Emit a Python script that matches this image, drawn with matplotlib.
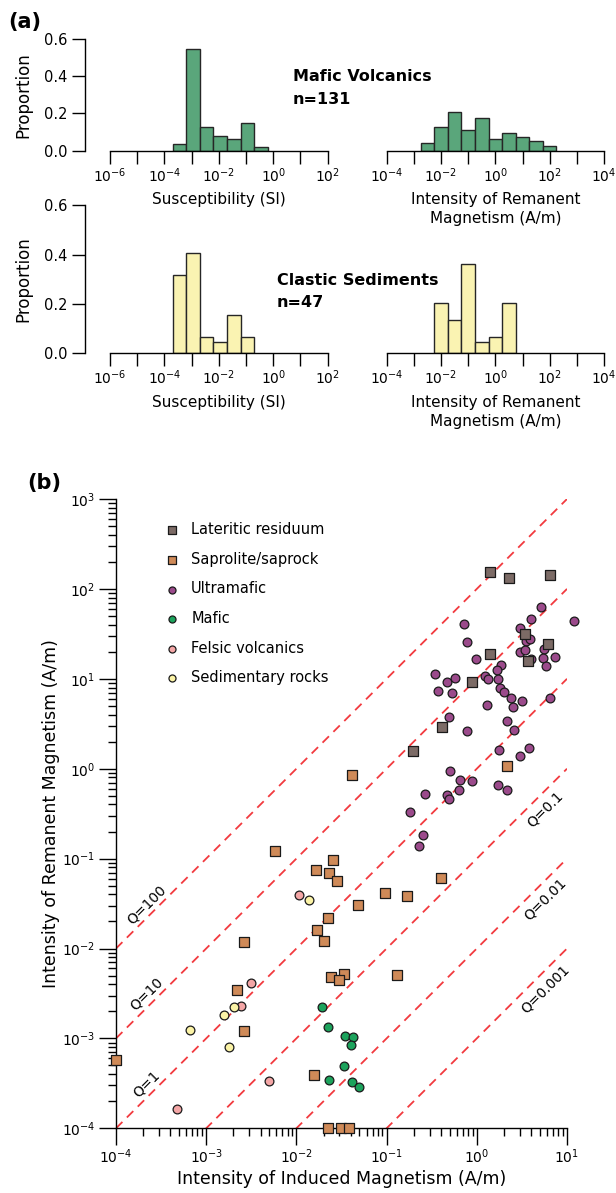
import numpy as np
import matplotlib
matplotlib.use('Agg')
import matplotlib.pyplot as plt
from matplotlib import ticker

# ---------------- (a) histograms: log10 bin edges and proportions ----------------
mafic_sus_edges = [-3.7, -3.2, -2.7, -2.2, -1.7, -1.2, -0.7, -0.2]
mafic_sus_prop = [0.034, 0.546, 0.125, 0.079, 0.063, 0.147, 0.018]
mafic_rem_edges = [-2.75, -2.25, -1.75, -1.25, -0.75, -0.25, 0.25, 0.75, 1.25, 1.75, 2.25]
mafic_rem_prop = [0.040, 0.126, 0.209, 0.110, 0.178, 0.065, 0.094, 0.072, 0.054, 0.025]
clastic_sus_edges = [-3.7, -3.2, -2.7, -2.2, -1.7, -1.2, -0.7]
clastic_sus_prop = [0.316, 0.405, 0.068, 0.044, 0.157, 0.068]
clastic_rem_edges = [-2.25, -1.75, -1.25, -0.75, -0.25, 0.25, 0.75]
clastic_rem_prop = [0.203, 0.135, 0.361, 0.045, 0.068, 0.203]

# ---------------- (b) induced (Ji) vs remanent (Jr) magnetism, A/m ----------------
lat_ji = [1.41, 2.28, 6.43, 3.40, 6.11, 1.40, 3.67, 0.89, 0.414, 0.195]
lat_jr = [156, 133, 142, 31.4, 24.5, 19.1, 15.9, 9.16, 2.89, 1.59]

sap_ji = [0.041, 2.14, 0.0058, 0.0255, 0.0164, 0.0232, 0.0284, 0.0953, 0.0485,
          0.0224, 0.0168, 0.0202, 0.00262, 0.024, 0.0334, 0.0299, 0.132, 0.00218,
          0.00262, 0.0001, 0.0156, 0.0224, 0.031, 0.038, 0.398, 0.167]
sap_jr = [0.843, 1.08, 0.120, 0.0955, 0.074, 0.069, 0.0564, 0.0417, 0.0304,
          0.0216, 0.0161, 0.0121, 0.0119, 0.00488, 0.00519, 0.00448, 0.00509, 0.00349,
          0.00121, 0.000577, 0.000395, 0.0001, 0.0001, 0.0001, 0.0603, 0.0386]

ultra_ji = [5.15, 11.9, 3.96, 0.726, 3.05, 0.783, 3.51, 3.89, 3.03, 3.42,
            5.56, 5.46, 7.32, 5.85, 4.02, 0.973, 1.85, 1.66, 1.23, 1.34,
            1.71, 0.347, 0.473, 0.566, 0.369, 0.525, 1.80, 2.02, 2.38, 3.17,
            6.48, 2.54, 1.29, 0.488, 0.773, 2.18, 2.61, 1.78, 3.01, 3.82,
            0.508, 0.645, 0.895, 0.630, 0.264, 0.463, 0.492, 1.73, 2.15, 0.181,
            0.251, 0.231]
ultra_jr = [62.7, 43.5, 46.6, 40.5, 37.1, 25.9, 26.0, 27.4, 20.0, 20.7,
            21.2, 16.9, 17.5, 13.9, 16.7, 16.5, 14.4, 12.5, 10.8, 10.0,
            10.0, 11.4, 9.29, 10.1, 7.31, 7.00, 7.84, 7.16, 6.04, 5.66,
            6.04, 4.83, 5.07, 3.76, 2.65, 3.39, 2.72, 1.63, 1.37, 1.69,
            0.933, 0.746, 0.733, 0.585, 0.525, 0.512, 0.461, 0.665, 0.578, 0.333,
            0.183, 0.137]

mafic_ji = [0.0194, 0.0224, 0.0346, 0.0428, 0.0402, 0.034, 0.0230, 0.0413, 0.0491]
mafic_jr = [0.00226, 0.00134, 0.00107, 0.00104, 0.000847, 0.000498, 0.000348, 0.000328, 0.000286]

felsic_ji = [0.0107, 0.00314, 0.00245, 0.00501, 0.000474]
felsic_jr = [0.0389, 0.00412, 0.0023, 0.000333, 0.000163]

sed_ji = [0.0139, 0.00203, 0.00159, 0.000667, 0.00179]
sed_jr = [0.0343, 0.00226, 0.00183, 0.00125, 0.000798]

q_values = [100, 10, 1, 0.1, 0.01, 0.001]
q_labels = ['Q=100', 'Q=10', 'Q=1', 'Q=0.1', 'Q=0.01', 'Q=0.001']

plt.rcParams['font.family'] = ['DejaVu Sans']

W, H = 616, 1193
fig = plt.figure(figsize=(W / 100, H / 100), dpi=100)


def px_axes(left, top, right, bottom):
    return fig.add_axes([left / W, 1 - bottom / H, (right - left) / W, (bottom - top) / H])


def even_decades(v, pos):
    e = int(round(np.log10(v)))
    return r'$\mathdefault{10^{%d}}$' % e if e % 2 == 0 else ''


def hist_panel(ax, edges, props, color, xlo, xhi, xlabel, with_y):
    e = 10.0 ** np.asarray(edges)
    ax.bar(e[:-1], props, width=np.diff(e), align='edge', color=color,
           edgecolor='#262626', linewidth=1.0, zorder=2)
    ax.set_xscale('log')
    ax.set_xlim(10.0 ** xlo, 10.0 ** xhi)
    ax.set_ylim(0, 0.6)
    ax.xaxis.set_major_locator(ticker.FixedLocator(10.0 ** np.arange(xlo, xhi + 1)))
    ax.xaxis.set_minor_locator(ticker.NullLocator())
    ax.xaxis.set_major_formatter(ticker.FuncFormatter(even_decades))
    ax.tick_params(axis='x', direction='out', length=9, width=1.0, pad=2, labelsize=10)
    for s in ['top', 'right']:
        ax.spines[s].set_visible(False)
    ax.spines['bottom'].set_linewidth(1.0)
    if with_y:
        ax.spines['left'].set_position(('outward', 18))
        ax.spines['left'].set_linewidth(1.0)
        ax.set_yticks([0.0, 0.2, 0.4, 0.6])
        ax.yaxis.set_major_formatter(ticker.FormatStrFormatter('%.1f'))
        ax.tick_params(axis='y', direction='out', length=9.5, width=1.0, pad=3, labelsize=10.5)
        ax.set_ylabel('Proportion', fontsize=12)
        ax.yaxis.set_label_coords(-0.355, 0.5)
    else:
        ax.spines['left'].set_visible(False)
        ax.set_yticks([])
    ax.set_xlabel(xlabel, fontsize=11, linespacing=1.35, va='top')
    ax.patch.set_alpha(0)


green = '#5aa67b'
yellow = '#faf3b2'
rem_label = 'Intensity of Remanent\nMagnetism (A/m)'

ax1 = px_axes(110, 39, 327.7, 150.7)
hist_panel(ax1, mafic_sus_edges, mafic_sus_prop, green, -6, 2, 'Susceptibility (SI)', True)
ax2 = px_axes(386.7, 39, 604, 150.7)
hist_panel(ax2, mafic_rem_edges, mafic_rem_prop, green, -4, 4, rem_label, False)
ax3 = px_axes(110, 205.3, 327.7, 353.3)
hist_panel(ax3, clastic_sus_edges, clastic_sus_prop, yellow, -6, 2, 'Susceptibility (SI)', True)
ax4 = px_axes(386.7, 205.3, 604, 353.3)
hist_panel(ax4, clastic_rem_edges, clastic_rem_prop, yellow, -4, 4, rem_label, False)

ax1.xaxis.set_label_coords(0.5, -0.37)
ax2.xaxis.set_label_coords(0.5, -0.37)
ax3.xaxis.set_label_coords(0.5, -0.28)
ax4.xaxis.set_label_coords(0.5, -0.28)

fig.text(8 / W, 1 - 22 / H, '(a)', fontsize=15, fontweight='bold', va='center', ha='left')
fig.text(293 / W, 1 - 76.5 / H, 'Mafic Volcanics', fontsize=11.5, fontweight='bold', va='center')
fig.text(293 / W, 1 - 99.5 / H, 'n=131', fontsize=11.5, fontweight='bold', va='center')
fig.text(277 / W, 1 - 280 / H, 'Clastic Sediments', fontsize=11.5, fontweight='bold', va='center')
fig.text(277 / W, 1 - 302.5 / H, 'n=47', fontsize=11.5, fontweight='bold', va='center')
fig.text(27 / W, 1 - 483 / H, '(b)', fontsize=15, fontweight='bold', va='center', ha='left')

# ---------------- (b) scatter ----------------
ax = px_axes(116, 499, 567, 1128.3)
ax.set_xscale('log')
ax.set_yscale('log')
ax.set_xlim(1e-4, 1e1)
ax.set_ylim(1e-4, 1e3)

xq = np.array([1e-4, 1e1])
for q in q_values:
    ax.plot(xq, q * xq, color='#f23a3f', lw=1.3, dashes=(5, 3.5), zorder=1)

for q, lab in zip(q_values, q_labels):
    if q >= 1:
        lx, off = -3.66, 0.15
    else:
        lx, off = 0.76, -0.21
    ly = np.log10(q) + lx + off
    ax.text(10 ** lx, 10 ** ly, lab, rotation=45, ha='center', va='center',
            rotation_mode='anchor', fontsize=10, zorder=2)

kw = dict(edgecolors='#1a1a1a', linewidths=0.9, zorder=3, clip_on=False)
h_ultra = ax.scatter(ultra_ji, ultra_jr, s=40, marker='o', color='#9b4a8b', label='Ultramafic', **kw)
h_maf = ax.scatter(mafic_ji, mafic_jr, s=40, marker='o', color='#1ca35c', label='Mafic', **kw)
h_fel = ax.scatter(felsic_ji, felsic_jr, s=40, marker='o', color='#f4a6a6', label='Felsic volcanics', **kw)
h_sed = ax.scatter(sed_ji, sed_jr, s=40, marker='o', color='#fbf3a6', label='Sedimentary rocks', **kw)
h_sap = ax.scatter(sap_ji, sap_jr, s=52, marker='s', color='#cf8a58', label='Saprolite/saprock', **kw)
h_lat = ax.scatter(lat_ji, lat_jr, s=52, marker='s', color='#7c6b66', label='Lateritic residuum', **kw)

leg = ax.legend(handles=[h_lat, h_sap, h_ultra, h_maf, h_fel, h_sed], loc='upper left',
                bbox_to_anchor=(0.107, 0.963), frameon=False, fontsize=10.5,
                handlelength=1.0, handletextpad=0.85, labelspacing=1.0,
                borderpad=0, borderaxespad=0, markerscale=0.8)

for s in ['top', 'right']:
    ax.spines[s].set_visible(False)
for s in ['left', 'bottom']:
    ax.spines[s].set_linewidth(1.0)
for a in (ax.xaxis, ax.yaxis):
    a.set_major_locator(ticker.LogLocator(base=10, numticks=20))
    a.set_minor_locator(ticker.LogLocator(base=10, subs=np.arange(2, 10), numticks=20))
    a.set_minor_formatter(ticker.NullFormatter())
ax.tick_params(which='major', direction='out', length=12, width=1.0, labelsize=10)
ax.tick_params(which='minor', direction='out', length=6, width=1.0)
ax.tick_params(axis='x', which='major', pad=2)
ax.tick_params(axis='y', which='major', pad=3)

ax.set_xlabel('Intensity of Induced Magnetism (A/m)', fontsize=12.5)
ax.set_ylabel('Intensity of Remanent Magnetism (A/m)', fontsize=12.5)
ax.xaxis.set_label_coords(0.5, -0.066)
ax.yaxis.set_label_coords(-0.125, 0.5)
ax.patch.set_alpha(0)

fig.savefig('out.png', dpi=100)
